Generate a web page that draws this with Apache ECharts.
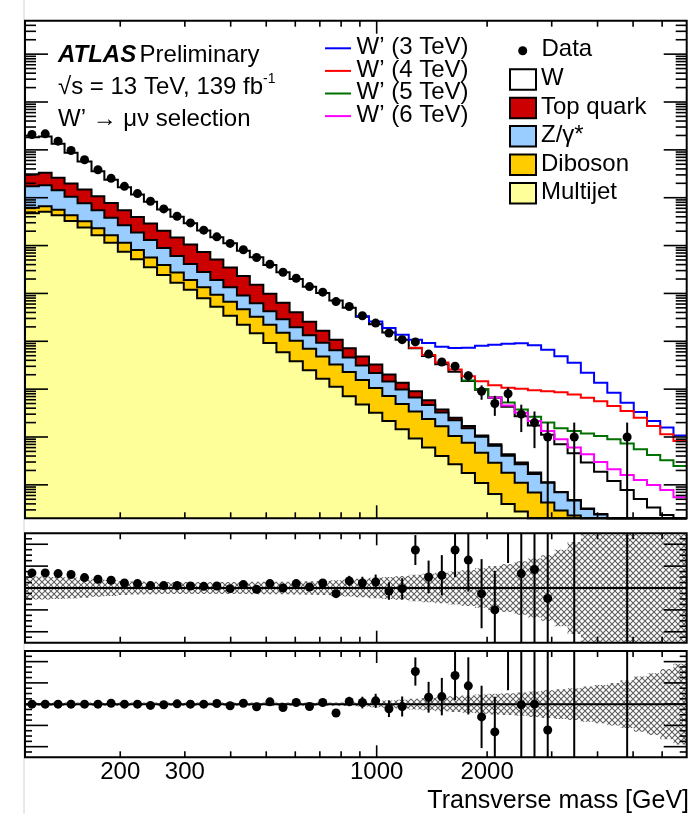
<!DOCTYPE html>
<html>
<head>
<meta charset="utf-8">
<script src="https://cdn.jsdelivr.net/npm/echarts@6/dist/echarts.min.js"></script>
<style>
  html, body { margin: 0; padding: 0; background: #ffffff; }
  #chart { width: 689px; height: 814px; }
</style>
</head>
<body>
<div id="chart"></div>
<script>
// Transverse-mass bin edges [GeV] (log-spaced, 110 - 7000 GeV)
const binEdges = [110, 120, 130, 141, 153, 167, 181, 197, 214, 232, 252, 274, 298, 324, 352, 382,
  416, 451, 491, 533, 579, 629, 684, 743, 808, 877, 953, 1036, 1126, 1223, 1329, 1444, 1569, 1705,
  1853, 2014, 2188, 2378, 2583, 2807, 3050, 3315, 3602, 3914, 4253, 4621, 5021, 5456, 5929, 6442, 7000];

// Observed events per bin
const dataCounts = [2090000, 2160000, 1520000, 971000, 622000, 385000, 254000, 173000, 122000, 84400,
  58300, 41100, 29800, 21000, 15200, 11100, 8180, 5630, 4060, 2770, 2080, 1389, 1062, 676, 532, 341,
  240, 149, 108, 97, 54, 37, 30, 19, 9, 5, 8, 3, 2, 1, 0, 1, 0, 0, 0, 1, 0, 0, 0, 0];

// Stacked background, cumulative from the bottom layer upwards
const stackMultijet = [47500, 51000, 43100, 32800, 23900, 16500, 11400, 7430, 5160, 3520, 2430, 1680,
  1190, 796, 525, 341, 221, 148, 92.2, 58.8, 38.2, 24.8, 16.4, 11.2, 7.13, 4.80, 3.22, 2.15, 1.45,
  0.926, 0.601, 0.402, 0.270, 0.176, 0.109, 0.0642, 0.0397, 0.0277, 0.012, 0.008, 0.005, 0.003,
  0.002, 0.0015, 0.001, 0.0008, 0.0006, 0.0004, 0.0003, 0.0002];
const stackDiboson = [61800, 66400, 56100, 43100, 32400, 23100, 16500, 11500, 8060, 5620, 3930, 2740,
  1910, 1340, 933, 667, 466, 325, 221, 151, 103, 70.2, 47.8, 32.6, 22.7, 15.5, 10.6, 7.19, 4.91,
  3.43, 2.39, 1.67, 1.05, 0.757, 0.469, 0.290, 0.180, 0.111, 0.069, 0.0428, 0.0291, 0.0229, 0.012,
  0.008, 0.005, 0.0035, 0.0025, 0.0018, 0.0012, 0.0008];
const stackZ = [173000, 182000, 143000, 105000, 76700, 54800, 38300, 26700, 18700, 13000, 8870, 6050,
  4120, 2810, 1910, 1340, 910, 621, 423, 288, 196, 134, 93.5, 65.3, 45.6, 31.0, 21.7, 14.4, 9.84,
  6.70, 4.68, 3.26, 2.23, 1.52, 1.01, 0.656, 0.406, 0.270, 0.168, 0.111, 0.0700, 0.047, 0.0313,
  0.024, 0.011, 0.007, 0.0045, 0.003, 0.002, 0.001];
const stackTop = [308000, 334000, 262000, 197000, 148000, 107000, 77800, 54800, 39700, 29000, 20500,
  14700, 10500, 7320, 5110, 3480, 2320, 1510, 979, 636, 403, 256, 166, 108, 71.8, 47.8, 32.6, 20.2,
  13.6, 9.06, 5.89, 3.77, 2.53, 1.69, 1.08, 0.705, 0.436, 0.293, 0.182, 0.114, 0.0706, 0.0481,
  0.032, 0.0246, 0.012, 0.008, 0.005, 0.003, 0.002, 0.001];
const stackTotal = [1837000, 1900000, 1340000, 867000, 568000, 357000, 238000, 166000, 117000, 82400,
  56900, 40200, 29300, 20700, 15000, 11200, 7830, 5680, 3910, 2770, 2000, 1375, 1016, 713, 500, 327,
  228, 153, 108, 71.8, 49.4, 33.2, 23.0, 14.8, 9.69, 6.64, 4.29, 2.70, 1.74, 1.12, 0.705, 0.458,
  0.293, 0.187, 0.121, 0.0778, 0.0505, 0.0336, 0.0235, 0.016];

// Background + W' signal, given from the first bin where the signal is visible
const wprime3Start = 25;
const wprime3 = [333, 259, 189, 137, 108, 92.2, 77.2, 72.6, 73.6, 81.0, 85.0, 89.2, 91.3, 83.0, 66.9,
  48.5, 35.4, 21.9, 13.6, 8.40, 5.20, 3.31, 2.15, 1.57, 1.08];
const wprime4Start = 29;
const wprime4 = [73.6, 51.4, 35.9, 25.6, 18.6, 14.6, 12.1, 10.7, 10.2, 9.51, 9.06, 8.64, 7.74, 6.61,
  5.61, 4.42, 3.48, 2.53, 1.69, 1.14, 0.826];
const wprime5Start = 33;
const wprime5 = [15.1, 10.1, 6.80, 5.27, 3.77, 2.66, 2.02, 1.52, 1.33, 1.18, 1.05, 0.896, 0.729,
  0.555, 0.422, 0.327, 0.249];
const wprime6Start = 35;
const wprime6 = [6.70, 4.57, 3.22, 2.15, 1.33, 0.896, 0.601, 0.436, 0.302, 0.213, 0.160, 0.126,
  0.0988, 0.0778, 0.0548];

// Data / background ratios (null where no events were observed)
const ratioPanel1 = [1.138, 1.138, 1.132, 1.123, 1.095, 1.080, 1.071, 1.046, 1.040, 1.022, 1.022,
  1.022, 1.018, 1.015, 1.018, 0.994, 1.031, 0.988, 1.040, 1.000, 1.040, 1.009, 1.046, 0.948, 1.065,
  1.046, 1.055, 0.972, 0.994, 1.347, 1.101, 1.117, 1.347, 1.255, 0.948, 0.800, 1.90, 1.132, 1.169,
  0.905, null, 2.2, null, null, null, 12.8, null, null, null, null];
const ratioPanel2 = [1.000, 1.000, 1.000, 1.000, 1.000, 1.000, 1.009, 1.000, 1.000, 0.988, 0.994,
  1.003, 1.000, 1.000, 1.006, 0.985, 1.009, 0.975, 1.022, 0.969, 1.015, 0.978, 1.015, 0.917, 1.025,
  1.015, 1.031, 0.957, 0.978, 1.307, 1.065, 1.071, 1.270, 1.172, 0.880, 0.739, 1.75, 0.994, 1.000,
  0.757, null, 2.0, null, null, null, 11.0, null, null, null, null];

// Half-width of the background uncertainty band in each ratio panel
const bandPanel1 = [0.105, 0.105, 0.100, 0.095, 0.088, 0.080, 0.072, 0.065, 0.060, 0.057, 0.055,
  0.054, 0.054, 0.054, 0.054, 0.055, 0.055, 0.056, 0.057, 0.058, 0.060, 0.062, 0.065, 0.070, 0.077,
  0.085, 0.093, 0.100, 0.110, 0.120, 0.130, 0.140, 0.150, 0.165, 0.180, 0.200, 0.220, 0.245, 0.270,
  0.300, 0.350, 0.420, 0.52, 0.58, 0.64, 0.70, 0.76, 0.82, 0.88, 0.94];
const bandPanel2 = [0.015, 0.015, 0.015, 0.015, 0.015, 0.015, 0.015, 0.015, 0.015, 0.015, 0.015,
  0.015, 0.015, 0.015, 0.015, 0.015, 0.015, 0.015, 0.015, 0.015, 0.015, 0.015, 0.015, 0.016, 0.018,
  0.022, 0.028, 0.035, 0.042, 0.050, 0.058, 0.066, 0.074, 0.082, 0.090, 0.097, 0.103, 0.110, 0.120,
  0.130, 0.140, 0.150, 0.165, 0.180, 0.200, 0.225, 0.260, 0.290, 0.330, 0.380];

// Axis ticks and labels
const xMinorTicks = [200, 300, 400, 500, 600, 700, 800, 900, 2000, 3000, 4000, 5000, 6000];
const xMajorTicks = [1000];
const xTickLabels = [200, 300, 1000, 2000];
const xTitle = 'Transverse mass [GeV]';

const X_MIN = 110, X_MAX = 7000;
const Y_MIN = 0.02, Y_MAX = 5e8;
const R_MIN = 0.5, R_MAX = 1.5;
const FONT = '"Liberation Sans", Arial, Helvetica, sans-serif';

const COLORS = {
  w: '#ffffff', top: '#cc0000', z: '#99ccff', diboson: '#ffcc00', multijet: '#ffff99',
  wp3: '#0000ff', wp4: '#ff0000', wp5: '#007000', wp6: '#ff00ff'
};

function clampLog(v) { return Math.min(Math.max(v, Y_MIN), Y_MAX); }
function clampRatio(v) { return Math.min(Math.max(v, R_MIN), R_MAX); }
function binCenter(i) { return Math.sqrt(binEdges[i] * binEdges[i + 1]); }

// cross-hatch fill for the uncertainty bands
function hatchPattern() {
  const c = document.createElement('canvas');
  c.width = 6; c.height = 6;
  const g = c.getContext('2d');
  g.strokeStyle = '#5e5e5e';
  g.lineWidth = 1.1;
  g.beginPath();
  g.moveTo(0, 0); g.lineTo(6, 6);
  g.moveTo(6, 0); g.lineTo(0, 6);
  g.stroke();
  return c;
}
const HATCH = { image: hatchPattern(), repeat: 'repeat' };

function base(gridIdx, z) {
  return {
    type: 'custom', coordinateSystem: 'cartesian2d',
    xAxisIndex: gridIdx, yAxisIndex: gridIdx,
    data: [[1000, 1]], silent: true, animation: false, z: z
  };
}

// one filled histogram of the stack, filled down to the axis floor
function stackLayer(values, fill) {
  return Object.assign(base(0, 2), {
    renderItem: function (params, api) {
      const step = [];
      values.forEach(function (v, i) {
        const y = clampLog(v);
        step.push(api.coord([binEdges[i], y]), api.coord([binEdges[i + 1], y]));
      });
      const poly = [api.coord([binEdges[0], Y_MIN])].concat(step,
        [api.coord([binEdges[binEdges.length - 1], Y_MIN])]);
      return {
        type: 'group', children: [
          { type: 'polygon', shape: { points: poly }, style: { fill: fill, stroke: null } },
          { type: 'polyline', shape: { points: step }, style: { fill: null, stroke: '#000', lineWidth: 2 } }
        ]
      };
    }
  });
}

// signal + background as a stepped line
function signalLine(start, values, color) {
  return Object.assign(base(0, 3), {
    renderItem: function (params, api) {
      const step = [];
      values.forEach(function (v, k) {
        const i = start + k, y = clampLog(v);
        step.push(api.coord([binEdges[i], y]), api.coord([binEdges[i + 1], y]));
      });
      return { type: 'polyline', shape: { points: step }, style: { fill: null, stroke: color, lineWidth: 2 } };
    }
  });
}

// observed data with Poisson uncertainty
const dataSeries = Object.assign(base(0, 6), {
  renderItem: function (params, api) {
    const kids = [];
    dataCounts.forEach(function (n, i) {
      if (!n) return;
      const x = binCenter(i), e = Math.sqrt(n);
      const p1 = api.coord([x, clampLog(n - e)]), p2 = api.coord([x, clampLog(n + e)]);
      kids.push({ type: 'line', shape: { x1: p1[0], y1: p1[1], x2: p2[0], y2: p2[1] }, style: { stroke: '#000', lineWidth: 2 } });
      const c = api.coord([x, n]);
      kids.push({ type: 'circle', shape: { cx: c[0], cy: c[1], r: 4.5 }, style: { fill: '#000' } });
    });
    return { type: 'group', children: kids };
  }
});

function bandSeries(g, half) {
  return Object.assign(base(g, 2), {
    renderItem: function (params, api) {
      const up = [], lo = [];
      half.forEach(function (b, i) {
        const yu = clampRatio(1 + b), yl = clampRatio(1 - b);
        up.push(api.coord([binEdges[i], yu]), api.coord([binEdges[i + 1], yu]));
        lo.push(api.coord([binEdges[i], yl]), api.coord([binEdges[i + 1], yl]));
      });
      return { type: 'polygon', shape: { points: up.concat(lo.reverse()) }, style: { fill: HATCH, stroke: null } };
    }
  });
}

function unityLine(g) {
  return Object.assign(base(g, 3), {
    renderItem: function (params, api) {
      const a = api.coord([X_MIN, 1]), b = api.coord([X_MAX, 1]);
      return { type: 'line', shape: { x1: a[0], y1: a[1], x2: b[0], y2: b[1] }, style: { stroke: '#000', lineWidth: 2 } };
    }
  });
}

function ratioPoints(g, ratio) {
  return Object.assign(base(g, 6), {
    renderItem: function (params, api) {
      const kids = [];
      ratio.forEach(function (r, i) {
        if (r === null || !dataCounts[i]) return;
        const x = binCenter(i), e = r / Math.sqrt(dataCounts[i]);
        const lo = r - e, hi = r + e;
        if (hi >= R_MIN && lo <= R_MAX) {
          const p1 = api.coord([x, clampRatio(lo)]), p2 = api.coord([x, clampRatio(hi)]);
          kids.push({ type: 'line', shape: { x1: p1[0], y1: p1[1], x2: p2[0], y2: p2[1] }, style: { stroke: '#000', lineWidth: 2 } });
        }
        if (r >= R_MIN && r <= R_MAX) {
          const c = api.coord([x, r]);
          kids.push({ type: 'circle', shape: { cx: c[0], cy: c[1], r: 4.5 }, style: { fill: '#000' } });
        }
      });
      return { type: 'group', children: kids };
    }
  });
}

// tick values for the log-scale event axis and the ratio axes
function logTicks() {
  const t = [];
  for (let d = -2; d <= 8; d++) {
    for (let k = 1; k <= 9; k++) {
      const v = k * Math.pow(10, d);
      if (v > Y_MIN * 1.001 && v < Y_MAX * 0.999) t.push({ v: v, major: k === 1 });
    }
  }
  return t;
}
function ratioTicks() {
  const t = [];
  for (let j = 11; j <= 29; j++) t.push({ v: j * 0.05, major: j % 4 === 0 });
  return t;
}

function frameSeries(g, yLo, yHi, yTicks, len, withLabels) {
  return Object.assign(base(g, 10), {
    renderItem: function (params, api) {
      const p0 = api.coord([X_MIN, yHi]), p1 = api.coord([X_MAX, yLo]);
      const L = p0[0], T = p0[1], R = p1[0], B = p1[1];
      const kids = [];
      function seg(x1, y1, x2, y2) {
        kids.push({ type: 'line', shape: { x1: x1, y1: y1, x2: x2, y2: y2 }, style: { stroke: '#000', lineWidth: 1.6 } });
      }
      xMinorTicks.forEach(function (v) {
        const x = api.coord([v, yLo])[0];
        seg(x, B, x, B - len.xMinor); seg(x, T, x, T + len.xMinor);
      });
      xMajorTicks.forEach(function (v) {
        const x = api.coord([v, yLo])[0];
        seg(x, B, x, B - len.xMajor); seg(x, T, x, T + len.xMajor);
      });
      yTicks.forEach(function (t) {
        const y = api.coord([X_MIN, t.v])[1];
        const l = t.major ? len.yMajor : len.yMinor;
        seg(L, y, L + l, y); seg(R, y, R - l, y);
      });
      kids.push({ type: 'rect', shape: { x: L, y: T, width: R - L, height: B - T }, style: { fill: null, stroke: '#000', lineWidth: 2 } });
      if (withLabels) {
        xTickLabels.forEach(function (v) {
          const x = api.coord([v, yLo])[0];
          kids.push({ type: 'text', x: x, y: B + 15.5, style: {
            text: String(v), font: '24px ' + FONT, fill: '#000',
            align: 'center', verticalAlign: 'middle', textAlign: 'center', textVerticalAlign: 'middle' } });
        });
        kids.push({ type: 'text', x: 689, y: B + 44, style: {
          text: xTitle, font: '25px ' + FONT, fill: '#000',
          align: 'right', verticalAlign: 'middle', textAlign: 'right', textVerticalAlign: 'middle' } });
      }
      return { type: 'group', children: kids };
    }
  });
}

// ---- legend and annotation texts ----
const TXT = 24;
function txt(x, y, text, size, extra) {
  return Object.assign({
    type: 'text', x: x, y: y, z: 20, silent: true,
    style: { text: text, font: size + 'px ' + FONT, fill: '#000',
      align: 'left', verticalAlign: 'middle', textAlign: 'left', textVerticalAlign: 'middle' }
  }, extra || {});
}

const sigLegend = [
  { label: 'W\u2019 (3 TeV)', color: COLORS.wp3 },
  { label: 'W\u2019 (4 TeV)', color: COLORS.wp4 },
  { label: 'W\u2019 (5 TeV)', color: COLORS.wp5 },
  { label: 'W\u2019 (6 TeV)', color: COLORS.wp6 }
];
const bkgLegend = [
  { label: 'W', color: COLORS.w },
  { label: 'Top quark', color: COLORS.top },
  { label: 'Z/\u03b3*', color: COLORS.z },
  { label: 'Diboson', color: COLORS.diboson },
  { label: 'Multijet', color: COLORS.multijet }
];

const graphics = [
  { type: 'line', z: 0, silent: true, shape: { x1: 24, y1: 0, x2: 24, y2: 814 }, style: { stroke: '#d4d4d4', lineWidth: 1 } },
  {
    type: 'text', x: 58, y: 55, z: 20, silent: true,
    style: {
      text: '{b|ATLAS} {n|Preliminary}', fill: '#000',
      align: 'left', verticalAlign: 'middle', textAlign: 'left', textVerticalAlign: 'middle',
      rich: {
        b: { font: 'italic bold 24px ' + FONT, fill: '#000' },
        n: { font: TXT + 'px ' + FONT, fill: '#000' }
      }
    }
  },
  {
    type: 'text', x: 58, y: 87.5, z: 20, silent: true,
    style: {
      text: '{n|\u221as = 13 TeV, 139 fb}{s|-1}', fill: '#000',
      align: 'left', verticalAlign: 'middle', textAlign: 'left', textVerticalAlign: 'middle',
      rich: {
        n: { font: TXT + 'px ' + FONT, fill: '#000', lineHeight: 30 },
        s: { font: '14px ' + FONT, fill: '#000', lineHeight: 22, verticalAlign: 'top' }
      }
    }
  },
  txt(58, 119, 'W\u2019 \u2192 \u03bc\u03bd selection', TXT)
];

sigLegend.forEach(function (s, k) {
  const y = 48.3 + k * 22.6;
  graphics.push({ type: 'line', z: 20, silent: true, shape: { x1: 325, y1: y, x2: 351, y2: y }, style: { stroke: s.color, lineWidth: 2 } });
  graphics.push(txt(356.5, y - 1, s.label, TXT));
});

graphics.push({ type: 'circle', z: 20, silent: true, shape: { cx: 522.7, cy: 50.7, r: 4.5 }, style: { fill: '#000' } });
graphics.push(txt(541.5, 49.2, 'Data', TXT));
bkgLegend.forEach(function (b, k) {
  const top = 69.3 + k * 28.4;
  graphics.push({ type: 'rect', z: 20, silent: true, shape: { x: 510, y: top, width: 26, height: 20.5 }, style: { fill: b.color, stroke: '#000', lineWidth: 2 } });
  graphics.push(txt(541, top + 9.5, b.label, TXT));
});

const chart = echarts.init(document.getElementById('chart'), null, { renderer: 'canvas', width: 689, height: 814 });

chart.setOption({
  backgroundColor: '#ffffff',
  animation: false,
  grid: [
    { left: 25, top: 20.7, width: 661.7, height: 497.6, show: false },
    { left: 25, top: 533.3, width: 661.7, height: 109.4, show: false },
    { left: 25, top: 651, width: 661.7, height: 106.3, show: false }
  ],
  xAxis: [0, 1, 2].map(function (g) {
    return { type: 'log', logBase: 10, min: X_MIN, max: X_MAX, gridIndex: g, show: false };
  }),
  yAxis: [
    { type: 'log', logBase: 10, min: Y_MIN, max: Y_MAX, gridIndex: 0, show: false },
    { type: 'value', min: R_MIN, max: R_MAX, gridIndex: 1, show: false },
    { type: 'value', min: R_MIN, max: R_MAX, gridIndex: 2, show: false }
  ],
  graphic: { elements: graphics },
  series: [
    stackLayer(stackTotal, COLORS.w),
    stackLayer(stackTop, COLORS.top),
    stackLayer(stackZ, COLORS.z),
    stackLayer(stackDiboson, COLORS.diboson),
    stackLayer(stackMultijet, COLORS.multijet),
    signalLine(wprime3Start, wprime3, COLORS.wp3),
    signalLine(wprime4Start, wprime4, COLORS.wp4),
    signalLine(wprime5Start, wprime5, COLORS.wp5),
    signalLine(wprime6Start, wprime6, COLORS.wp6),
    dataSeries,
    frameSeries(0, Y_MIN, Y_MAX, logTicks(), { xMinor: 6, xMajor: 13, yMinor: 11, yMajor: 23 }, false),
    bandSeries(1, bandPanel1),
    unityLine(1),
    ratioPoints(1, ratioPanel1),
    frameSeries(1, R_MIN, R_MAX, ratioTicks(), { xMinor: 6, xMajor: 12, yMinor: 7, yMajor: 23 }, false),
    bandSeries(2, bandPanel2),
    unityLine(2),
    ratioPoints(2, ratioPanel2),
    frameSeries(2, R_MIN, R_MAX, ratioTicks(), { xMinor: 6, xMajor: 12, yMinor: 7, yMajor: 23 }, true)
  ]
});
</script>
</body>
</html>
